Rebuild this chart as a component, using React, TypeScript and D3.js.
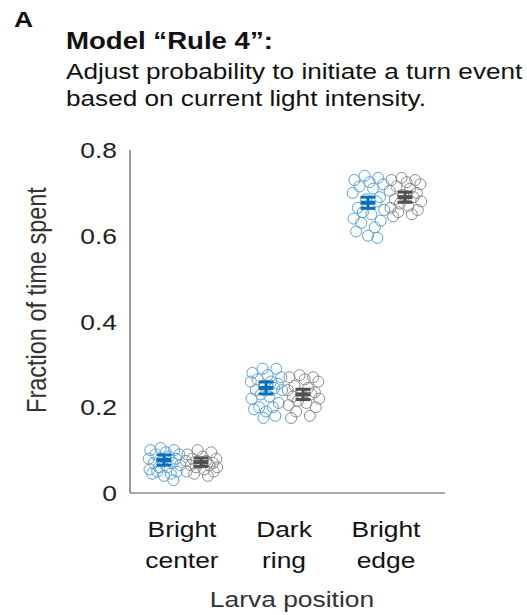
import React, { useEffect, useRef } from 'react';
import * as d3 from 'd3';

const categories = ['Bright center', 'Dark ring', 'Bright edge'];
const categoryLines = [['Bright', 'center'], ['Dark', 'ring'], ['Bright', 'edge']];
const yTicks = [0, 0.2, 0.4, 0.6, 0.8];

// individual larvae, per position: experiment (blue) and model (gray)
const dataBlue = [
  [0.105, 0.1, 0.1, 0.095, 0.09, 0.09, 0.085, 0.08, 0.08, 0.075, 0.07, 0.07, 0.065, 0.06, 0.06, 0.055, 0.05, 0.05, 0.045, 0.045, 0.04, 0.03],
  [0.29, 0.29, 0.28, 0.275, 0.27, 0.265, 0.26, 0.26, 0.255, 0.25, 0.245, 0.24, 0.24, 0.23, 0.225, 0.22, 0.21, 0.2, 0.2, 0.195, 0.19, 0.18, 0.175],
  [0.74, 0.735, 0.73, 0.725, 0.72, 0.715, 0.71, 0.7, 0.69, 0.685, 0.68, 0.665, 0.66, 0.655, 0.65, 0.64, 0.635, 0.63, 0.62, 0.61, 0.6, 0.595],
];
const dataGray = [
  [0.1, 0.095, 0.09, 0.085, 0.08, 0.08, 0.075, 0.075, 0.07, 0.07, 0.065, 0.065, 0.06, 0.06, 0.055, 0.05, 0.05, 0.045, 0.04],
  [0.275, 0.27, 0.27, 0.265, 0.26, 0.25, 0.245, 0.24, 0.235, 0.23, 0.23, 0.225, 0.22, 0.215, 0.21, 0.205, 0.2, 0.19, 0.18, 0.175],
  [0.735, 0.73, 0.73, 0.725, 0.72, 0.715, 0.71, 0.705, 0.7, 0.695, 0.69, 0.685, 0.68, 0.675, 0.67, 0.665, 0.66, 0.655, 0.65, 0.645],
];
const meanBlue = [0.077, 0.245, 0.677];
const meanGray = [0.072, 0.23, 0.69];
const semBlue = [0.012, 0.014, 0.013];
const semGray = [0.01, 0.012, 0.012];

// fixed horizontal scatter pattern (fraction of half-width)
const jitter = [-0.2, 0.6, -0.8, 0.1, 0.9, -0.5, 0.3, -0.9, 0.7, -0.1, 0.5, -0.6, 0.95, -0.3, 0.2, -0.85, 0.75, -0.4, 0.4, -0.7, 0.0, 0.55, -0.15];

const FONT = 'Liberation Sans, Arial, Helvetica, sans-serif';
const SX = 1.2; // the figure's text is a bit wider than Arial

const App = () => {
  const ref = useRef<SVGSVGElement>(null);

  useEffect(() => {
    const svg = d3.select(ref.current);
    svg.selectAll('*').remove();

    const text = (x: number, y: number, s: string, size: number, opts: any = {}) =>
      svg.append('text')
        .attr('transform', `translate(${x},${y}) scale(${SX},1)`)
        .attr('text-anchor', opts.anchor || 'start')
        .text(s)
        .style('font', `${opts.bold ? 'bold ' : ''}${size}px ${FONT}`)
        .style('fill', opts.fill || '#111');

    const x = d3.scalePoint().domain(categories).range([183, 387]);
    const y = d3.scaleLinear().domain([0, 0.8]).range([493, 150]);
    const spread = 17;

    // titles
    text(14, 27, 'A', 22, { bold: true });
    text(66, 49, 'Model \u201cRule 4\u201d:', 23, { bold: true });
    text(66, 79, 'Adjust probability to initiate a turn event', 21.8);
    text(66, 106, 'based on current light intensity.', 21.8);

    // axes
    svg.append('line').attr('x1', 130).attr('x2', 130).attr('y1', y(0.8)).attr('y2', y(0))
      .attr('stroke', '#555').attr('stroke-width', 1.2);
    svg.append('line').attr('x1', 130).attr('x2', 445).attr('y1', y(0)).attr('y2', y(0))
      .attr('stroke', '#555').attr('stroke-width', 1.2);

    yTicks.forEach(t => {
      text(117, y(t) + 8, t === 0 ? '0' : t.toFixed(1), 22, { anchor: 'end', fill: '#222' });
    });

    svg.append('text')
      .attr('transform', `translate(46, 300) scale(${SX},1) rotate(-90)`)
      .attr('text-anchor', 'middle').text('Fraction of time spent')
      .style('font', `23.5px ${FONT}`).style('fill', '#333');

    categories.forEach((c, i) => {
      const cx = x(c)!;
      categoryLines[i].forEach((t, j) => {
        text(cx - 1, 537 + j * 31, t, 22, { anchor: 'middle' });
      });

      const groups = [
        { vals: dataBlue[i], mean: meanBlue[i], sem: semBlue[i], cx: cx - 19, pt: '#5aa1dc', dark: '#0b6fbd' },
        { vals: dataGray[i], mean: meanGray[i], sem: semGray[i], cx: cx + 18, pt: '#8c8c8c', dark: '#505050' },
      ];
      groups.forEach(g => {
        svg.append('g').selectAll('circle').data(g.vals).enter().append('circle')
          .attr('cx', (d, k) => g.cx + jitter[k % jitter.length] * spread)
          .attr('cy', d => y(d))
          .attr('r', 5.5)
          .attr('fill', 'none')
          .attr('stroke', g.pt)
          .attr('stroke-width', 1);

        const hw = 7.5;
        const eg = svg.append('g').attr('stroke', g.dark).attr('stroke-width', 3);
        eg.append('line').attr('x1', g.cx).attr('x2', g.cx)
          .attr('y1', y(g.mean - g.sem)).attr('y2', y(g.mean + g.sem));
        [g.mean - g.sem, g.mean + g.sem].forEach(v => {
          eg.append('line').attr('x1', g.cx - hw).attr('x2', g.cx + hw)
            .attr('y1', y(v)).attr('y2', y(v));
        });
        eg.append('line').attr('x1', g.cx - hw).attr('x2', g.cx + hw)
          .attr('y1', y(g.mean)).attr('y2', y(g.mean)).attr('stroke-width', 4);
      });
    });

    text(292, 607, 'Larva position', 22, { anchor: 'middle', fill: '#333' });
  }, []);

  return <svg ref={ref} width={527} height={615} style={{ position: 'absolute', left: 0, top: 0 }} />;
};

export default App;
